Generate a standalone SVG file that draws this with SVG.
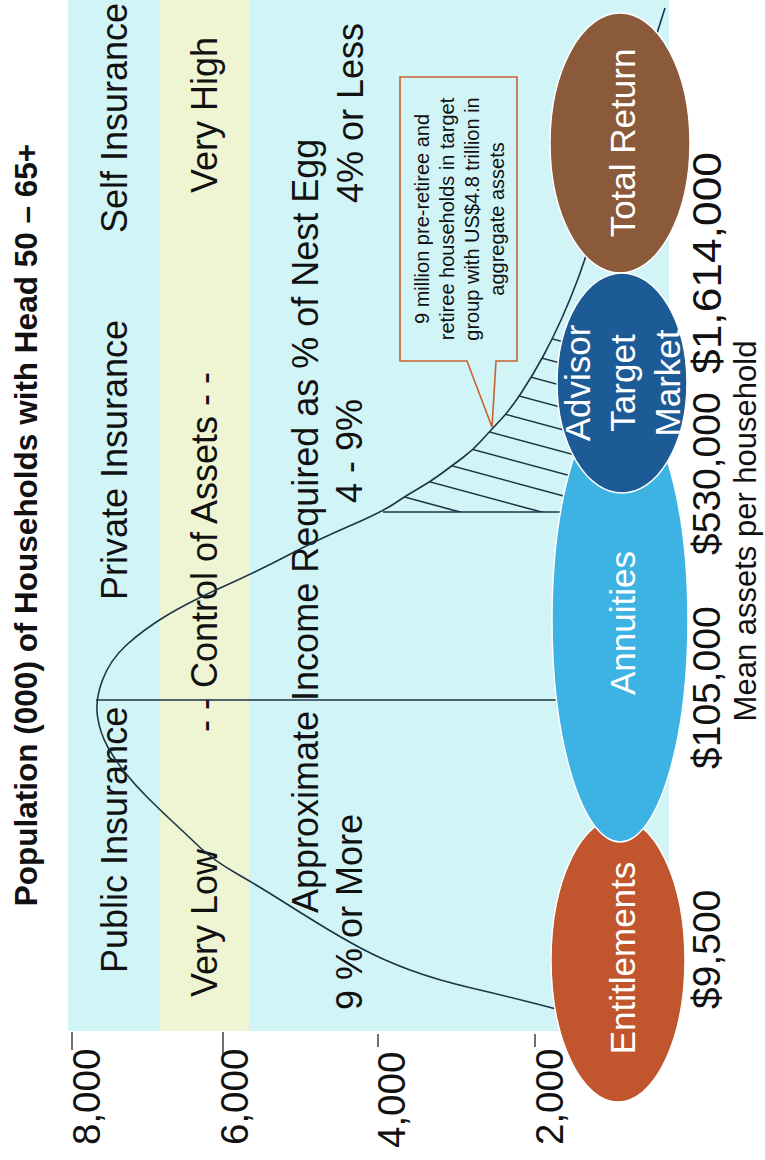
<svg xmlns="http://www.w3.org/2000/svg" width="765" height="1160" viewBox="0 0 765 1160">
<style>
  text { font-family: "Liberation Sans", Arial, Helvetica, sans-serif; fill: #111; }
  .title { font-size: 31.5px; font-weight: bold; }
  .band { font-size: 36px; }
  .ylab { font-size: 38.5px; }
  .xlab { font-size: 39px; }
  .axis { font-size: 31px; }
  .node { font-size: 35px; fill: #ffffff; text-anchor: middle; }
  .note { font-size: 20px; text-anchor: middle; }
  .curve { fill: none; stroke: #1c3446; stroke-width: 1.6; }
  .ln { stroke: #1c3446; stroke-width: 1.6; fill: none; }
  .tick { stroke: #222; stroke-width: 1.3; }
  .ell { stroke: #ffffff; stroke-width: 1.5; }
</style>
<defs>
  <clipPath id="hatchClip">
    <path d="M383,512 L394.5,503.5 Q407,495 418.5,488.5 Q430,482 441.5,473.5 Q453,465 463,457.5 Q473,450 481.5,440.5 Q490,431 500,420.5 Q510,410 521.5,392.5 Q533,375 543,356.5 Q553,338 561.5,319 L640,319 L640,512 Z"/>
  </clipPath>
</defs>
<rect x="0" y="0" width="765" height="1160" fill="#ffffff"/>
<rect x="68" y="0" width="601" height="1031" fill="#d1f4f7"/>
<rect x="160" y="0" width="89" height="1031" fill="#eff5d2"/>

<text class="title" transform="translate(37,525) rotate(-90)" text-anchor="middle">Population (000) of Households with Head 50 – 65+</text>

<g id="bands">
  <text class="band" transform="translate(127,973) rotate(-90)">Public Insurance</text>
  <text class="band" transform="translate(127,600) rotate(-90)">Private Insurance</text>
  <text class="band" transform="translate(127,233) rotate(-90)">Self Insurance</text>
  <text class="band" transform="translate(217,997) rotate(-90)">Very Low</text>
  <text class="band" transform="translate(217,732) rotate(-90)">- - Control of Assets - -</text>
  <text class="band" transform="translate(217,193) rotate(-90)">Very High</text>
  <text class="band" transform="translate(318,913) rotate(-90)">Approximate Income Required as % of Nest Egg</text>
  <text class="band" transform="translate(362,1010) rotate(-90)">9 % or More</text>
  <text class="band" transform="translate(362,503) rotate(-90)">4 - 9%</text>
  <text class="band" transform="translate(363,203) rotate(-90)">4% or Less</text>
</g>

<g id="axes">
  <line class="tick" x1="72" y1="1032" x2="72" y2="1050"/>
  <line class="tick" x1="223" y1="1032" x2="223" y2="1054"/>
  <line class="tick" x1="378" y1="1034" x2="378" y2="1047"/>
  <line class="tick" x1="535" y1="1034" x2="535" y2="1047"/>
  <text class="ylab" transform="translate(100,1145) rotate(-90)">8,000</text>
  <text class="ylab" transform="translate(248,1145) rotate(-90)">6,000</text>
  <text class="ylab" transform="translate(405,1148) rotate(-90)">4,000</text>
  <text class="ylab" transform="translate(563,1145) rotate(-90)">2,000</text>
  <text class="xlab" transform="translate(720,1009) rotate(-90)">$9,500</text>
  <text class="xlab" transform="translate(720,769) rotate(-90)">$105,000</text>
  <text class="xlab" transform="translate(720,555) rotate(-90)">$530,000</text>
  <text class="xlab" transform="translate(721,374) rotate(-90)" style="font-size:40px" textLength="222" lengthAdjust="spacingAndGlyphs">$1,614,000</text>
  <text class="axis" transform="translate(756,531) rotate(-90)" text-anchor="middle">Mean assets per household</text>
</g>

<g id="connectors">
  <path class="curve" d="M560,1010 L535,1003.5 Q510,997 473.5,988.5 Q437,980 410,970 Q383,960 361.5,948.5 Q340,937 316.5,922.5 Q293,908 276.5,897.5 Q260,887 236.5,873.5 Q213,860 200,847.5 Q187,835 173.5,822.5 Q160,810 147.5,797.5 Q135,785 125,772.5 Q115,760 107.5,746.5 Q100,733 97.5,716.5 Q95,700 102.5,680 Q110,660 126.5,645 Q143,630 165,616.5 Q187,603 223.5,586.5 Q260,570 288.5,555 Q317,540 349.5,526 Q382,512 394.5,503.5 Q407,495 418.5,488.5 Q430,482 441.5,473.5 Q453,465 463,457.5 Q473,450 481.5,440.5 Q490,431 500,420.5 Q510,410 521.5,392.5 Q533,375 543,356.5 Q553,338 561.5,319 Q570,300 577.5,280 Q585,260 602.5,205 Q620,150 642.5,79 L665,8"/>
  <line class="ln" x1="96" y1="700" x2="600" y2="700"/>
  <line class="ln" x1="383" y1="512" x2="600" y2="512"/>
  <g clip-path="url(#hatchClip)" class="ln">
    <line x1="370" y1="487.7" x2="640" y2="560.6"/>
    <line x1="370" y1="465.7" x2="640" y2="538.6"/>
    <line x1="370" y1="443.7" x2="640" y2="516.6"/>
    <line x1="370" y1="421.7" x2="640" y2="494.6"/>
    <line x1="370" y1="399.7" x2="640" y2="472.6"/>
    <line x1="370" y1="377.7" x2="640" y2="450.6"/>
    <line x1="370" y1="355.7" x2="640" y2="428.6"/>
    <line x1="370" y1="333.7" x2="640" y2="406.6"/>
    <line x1="370" y1="311.7" x2="640" y2="384.6"/>
    <line x1="370" y1="289.7" x2="640" y2="362.6"/>
  </g>
</g>

<g id="callout">
  <path d="M467,361 L400,361 L400,77 L517,77 L517,361 L496,361 L492,427 Z" fill="#d1f4f7" stroke="#c8622c" stroke-width="1.6"/>
  <text class="note" transform="translate(429,219) rotate(-90)">9 million pre-retiree and</text>
  <text class="note" transform="translate(454,219) rotate(-90)">retiree households in target</text>
  <text class="note" transform="translate(479,219) rotate(-90)">group with US$4.8 trillion in</text>
  <text class="note" transform="translate(504,219) rotate(-90)">aggregate assets</text>
</g>

<g id="total-return">
  <ellipse class="ell" cx="620" cy="143" rx="70" ry="130" fill="#8b5a3a"/>
  <text class="node" transform="translate(635,143) rotate(-90)">Total Return</text>
</g>
<g id="entitlements">
  <ellipse class="ell" cx="618" cy="960" rx="67" ry="142" fill="#c0552e"/>
  <text class="node" transform="translate(635,958) rotate(-90)">Entitlements</text>
</g>
<g id="annuities">
  <ellipse class="ell" cx="620" cy="620" rx="68" ry="222" fill="#3db3e4"/>
  <text class="node" transform="translate(635,623) rotate(-90)">Annuities</text>
</g>
<g id="advisor">
  <ellipse class="ell" cx="622" cy="383" rx="65" ry="110" fill="#1d5b96"/>
  <text class="node" transform="translate(590,383) rotate(-90)">Advisor</text>
  <text class="node" transform="translate(635,383) rotate(-90)">Target</text>
  <text class="node" transform="translate(680,383) rotate(-90)">Market</text>
</g>
</svg>
